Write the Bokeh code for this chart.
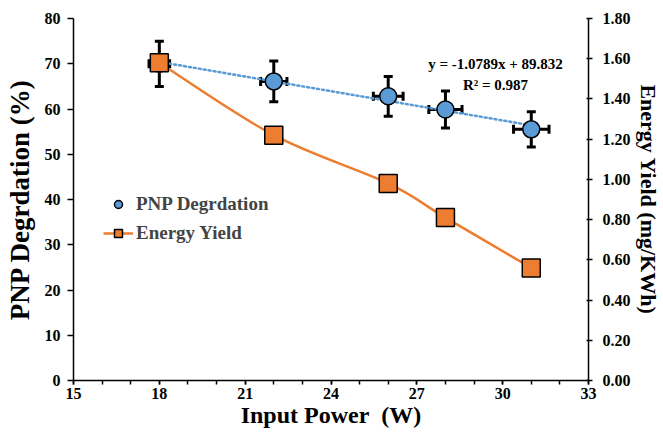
from bokeh.plotting import figure
from bokeh.models import (Range1d, LinearAxis, Whisker, ColumnDataSource, Label,
                          Legend, LegendItem, FixedTicker, NumeralTickFormatter)
from bokeh.embed import file_html
from bokeh.resources import INLINE

# ---- data ----
power = [18, 22, 26, 28, 31]
pnp_degradation = [70.0, 66.1, 62.8, 59.9, 55.5]
pnp_err = [5.0, 4.5, 4.4, 4.1, 3.9]
power_err = [0.36, 0.46, 0.52, 0.58, 0.62]
energy_yield = [1.58, 1.22, 0.98, 0.81, 0.56]
trend_slope = -1.0789
trend_intercept = 89.832
trend_r2 = 0.987
x_ticks = [15, 18, 21, 24, 27, 30, 33]
left_ticks = [0, 10, 20, 30, 40, 50, 60, 70, 80]
right_ticks = [0.0, 0.2, 0.4, 0.6, 0.8, 1.0, 1.2, 1.4, 1.6, 1.8]

FONT = "Liberation Serif"
BLUE = "#5B9BD5"
ORANGE = "#ED7D31"

p = figure(width=663, height=433, output_backend="svg", toolbar_location=None,
           x_range=Range1d(15, 33), y_range=Range1d(0, 80),
           min_border_left=73, min_border_right=72, min_border_top=18, min_border_bottom=53)
p.outline_line_color = None
p.xgrid.visible = False
p.ygrid.visible = False
p.extra_y_ranges = {"right": Range1d(0, 1.8)}

def style_axis(ax):
    ax.axis_line_color = "black"
    ax.axis_line_width = 1.5
    ax.major_tick_line_color = "black"
    ax.major_tick_line_width = 1.5
    ax.minor_tick_line_color = "black"
    ax.minor_tick_line_width = 1.5
    ax.major_label_text_font = FONT
    ax.major_label_text_font_style = "bold"
    ax.major_label_text_font_size = "16px"
    ax.major_label_text_color = "black"
    ax.axis_label_text_font = FONT
    ax.axis_label_text_font_style = "bold"
    ax.axis_label_text_color = "black"

xa = p.xaxis[0]
style_axis(xa)
xa.ticker = FixedTicker(ticks=x_ticks, minor_ticks=list(range(15, 34)))
xa.major_tick_in = 0
xa.major_tick_out = 4
xa.minor_tick_in = 0
xa.minor_tick_out = 4
xa.major_label_standoff = 3
xa.axis_label = "Input Power\u00a0\u00a0(W)"
xa.axis_label_text_font_size = "24px"
xa.axis_label_standoff = 0

ya = p.yaxis[0]
style_axis(ya)
ya.ticker = FixedTicker(ticks=left_ticks)
ya.major_tick_in = 0
ya.major_tick_out = 6
ya.minor_tick_line_color = None
ya.axis_label = "PNP Degrdation (%)"
ya.axis_label_text_font_size = "27px"
ya.axis_label_standoff = 7
ya.major_label_standoff = 7

ra = LinearAxis(y_range_name="right")
style_axis(ra)
ra.ticker = FixedTicker(ticks=right_ticks)
ra.formatter = NumeralTickFormatter(format="0.00")
ra.major_tick_in = 2
ra.major_tick_out = 4
ra.minor_tick_line_color = None
ra.axis_label = "Energy Yield (mg/KWh)"
ra.axis_label_text_font_size = "22px"
ra.axis_label_standoff = 2
ra.major_label_standoff = 10
p.add_layout(ra, "right")

# ---- PNP series ----
src = ColumnDataSource(dict(
    x=power, y=pnp_degradation,
    ylo=[v - e for v, e in zip(pnp_degradation, pnp_err)],
    yhi=[v + e for v, e in zip(pnp_degradation, pnp_err)],
    xlo=[v - e for v, e in zip(power, power_err)],
    xhi=[v + e for v, e in zip(power, power_err)],
))

tx = [min(power), max(power)]
ty = [trend_slope * v + trend_intercept for v in tx]
p.line(tx, ty, line_color=BLUE, line_width=2.5, line_dash="2 3", line_cap="round")

def make_whisker(**kw):
    w = Whisker(source=src, line_color="black", line_width=3, level="underlay", **kw)
    for h in (w.upper_head, w.lower_head):
        h.size = 9
        h.line_width = 3
    return w

p.add_layout(make_whisker(base="x", lower="ylo", upper="yhi", dimension="height"))
p.add_layout(make_whisker(base="y", lower="xlo", upper="xhi", dimension="width"))

pnp_r = p.scatter("x", "y", source=src, marker="circle", size=17,
                  fill_color=BLUE, line_color="black", line_width=1.5)

# ---- Energy yield series (smoothed curve, spreadsheet-style) ----
n = len(power)
ex = list(power)
ey = list(energy_yield)
x0, y0, x1, y1, cx0, cy0, cx1, cy1 = [], [], [], [], [], [], [], []
for i in range(n - 1):
    ip = max(i - 1, 0)
    inx = min(i + 2, n - 1)
    x0.append(ex[i]); y0.append(ey[i])
    x1.append(ex[i + 1]); y1.append(ey[i + 1])
    cx0.append(ex[i] + (ex[i + 1] - ex[ip]) / 6.0)
    cy0.append(ey[i] + (ey[i + 1] - ey[ip]) / 6.0)
    cx1.append(ex[i + 1] - (ex[inx] - ex[i]) / 6.0)
    cy1.append(ey[i + 1] - (ey[inx] - ey[i]) / 6.0)
curve_r = p.bezier(x0=x0, y0=y0, x1=x1, y1=y1, cx0=cx0, cy0=cy0, cx1=cx1, cy1=cy1,
                   line_color=ORANGE, line_width=2.5, y_range_name="right")
en_r = p.scatter(ex, ey, marker="square", size=18, fill_color=ORANGE,
                 line_color="black", line_width=1.5, y_range_name="right")

# ---- equation label ----
lab_x = 29.75
eq1 = Label(x=lab_x, y=70.0, text=f"y = {trend_slope}x + {trend_intercept}",
            text_align="center", text_baseline="middle", text_font=FONT,
            text_font_style="bold", text_font_size="15px", text_color="black")
eq2 = Label(x=lab_x, y=65.2, text=f"R² = {trend_r2}",
            text_align="center", text_baseline="middle", text_font=FONT,
            text_font_style="bold", text_font_size="15px", text_color="black")
p.add_layout(eq1)
p.add_layout(eq2)

# ---- legend ----
legend = Legend(items=[
    LegendItem(label="PNP Degrdation", renderers=[pnp_r]),
    LegendItem(label="Energy Yield", renderers=[curve_r, en_r]),
], location=(30, 136))
legend.border_line_color = None
legend.background_fill_alpha = 0
legend.padding = 0
legend.margin = 0
legend.label_text_font = FONT
legend.label_text_font_style = "bold"
legend.label_text_font_size = "19px"
legend.glyph_width = 30
legend.glyph_height = 20
legend.label_height = 20
legend.spacing = 7
legend.label_standoff = 3
p.add_layout(legend)

open("out.html", "w").write(file_html(p, INLINE))
